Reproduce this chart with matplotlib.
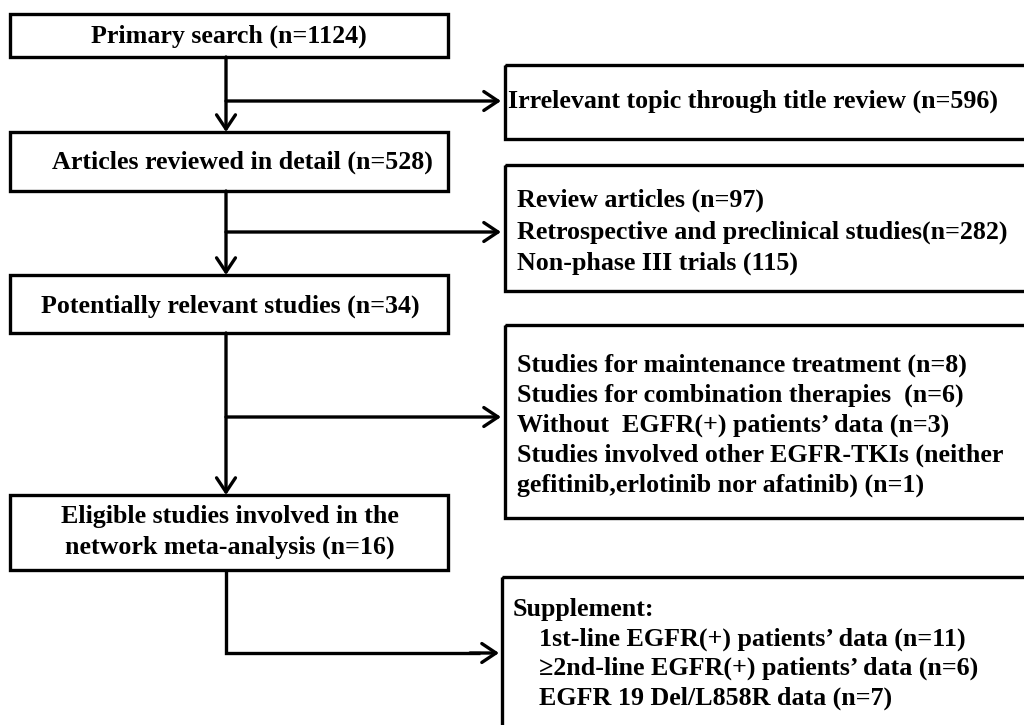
import matplotlib.pyplot as plt
from matplotlib.patches import Rectangle, FancyArrowPatch

plt.rcParams['font.family'] = ['Liberation Serif', 'DejaVu Serif']

# main flow boxes (left column)
main_texts = [
    "Primary search (n=1124)",
    "Articles reviewed in detail (n=528)",
    "Potentially relevant studies (n=34)",
    "Eligible studies involved in the\nnetwork meta-analysis (n=16)",
]
main_boxes = [(10, 14, 438, 43), (10, 132, 438, 59), (10, 275, 438, 58), (10, 495, 438, 75)]
main_text_xy = [(229, 36), (242, 162), (230, 306), (230, 532)]

# exclusion / side boxes (right column)
side_lines = [
    ["Irrelevant topic through title review (n=596)"],
    ["Review articles (n=97)",
     "Retrospective and preclinical studies(n=282)",
     "Non-phase III trials (115)"],
    ["Studies for maintenance treatment (n=8)",
     "Studies for combination therapies  (n=6)",
     "Without  EGFR(+) patients\u2019 data (n=3)",
     "Studies involved other EGFR-TKIs (neither",
     "gefitinib,erlotinib nor afatinib) (n=1)"],
    ["Supplement:",
     "    1st-line EGFR(+) patients\u2019 data (n=11)",
     "    \u22652nd-line EGFR(+) patients\u2019 data (n=6)",
     "    EGFR 19 Del/L858R data (n=7)"],
]
side_boxes = [(505, 65, 560, 74), (505, 165, 560, 126), (505, 325, 560, 193), (502, 577, 560, 200)]
side_text_xy = [(508, 101), (517, 232), (517, 425), (513, 654)]
side_spacing = [1.0, 1.45, 1.37, 1.33]

arrow_y = [101, 232, 417]
vx = 226

fig = plt.figure(figsize=(10.24, 7.25), dpi=100)
ax = fig.add_axes([0, 0, 1, 1])
ax.set_xlim(0, 1024)
ax.set_ylim(725, 0)
ax.axis('off')

lw = 2.4
fs = 18.7

for (x, y, w, h), t, (tx, ty) in zip(main_boxes, main_texts, main_text_xy):
    ax.add_patch(Rectangle((x, y), w, h, fill=False, ec='black', lw=lw, joinstyle='miter'))
    ax.text(tx, ty, t, ha='center', va='center', fontsize=fs, fontweight='bold',
            linespacing=1.4)

for (x, y, w, h), lines, (tx, ty), sp in zip(side_boxes, side_lines, side_text_xy, side_spacing):
    ax.add_patch(Rectangle((x, y), w, h, fill=False, ec='black', lw=lw,
                           joinstyle='miter', clip_on=False))
    ax.text(tx, ty, "\n".join(lines), ha='left', va='center', fontsize=fs,
            fontweight='bold', linespacing=sp)

def arrow(p0, p1):
    ax.add_patch(FancyArrowPatch(p0, p1, arrowstyle='->,head_length=6,head_width=4',
                                 lw=lw, color='black', shrinkA=0, shrinkB=0,
                                 mutation_scale=1.7))

# vertical arrows between main boxes
for i in range(3):
    y_top = main_boxes[i][1] + main_boxes[i][3]
    y_bot = main_boxes[i + 1][1]
    arrow((vx, y_top), (vx, y_bot))

# horizontal side arrows
for y in arrow_y:
    arrow((vx, y), (501, y))

# final elbow to the supplement box
y4 = main_boxes[3][1] + main_boxes[3][3]
ax.plot([vx, vx, 480], [y4, 653, 653], color='black', lw=lw,
        solid_capstyle='butt', solid_joinstyle='miter')
arrow((470, 653), (499, 653))

fig.savefig('out.png', dpi=100)
